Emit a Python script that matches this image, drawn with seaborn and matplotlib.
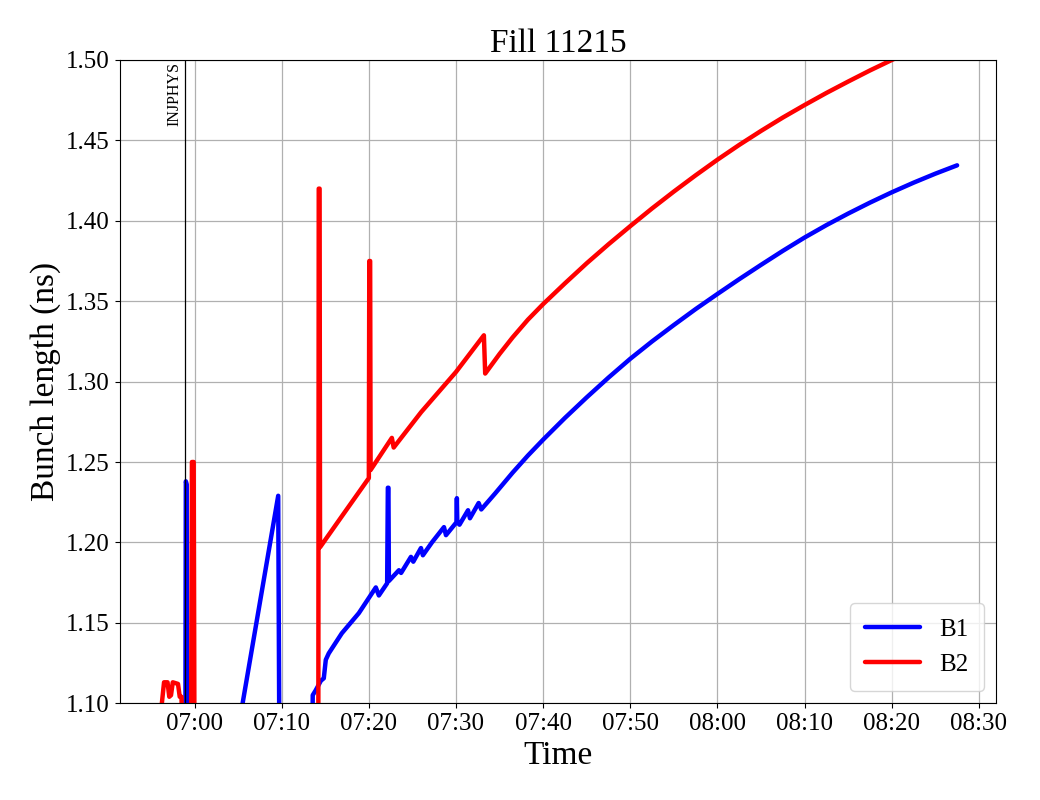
import pandas as pd
import matplotlib
matplotlib.use("Agg")
import matplotlib.pyplot as plt
import matplotlib.dates as mdates
from matplotlib.ticker import FormatStrFormatter
import seaborn as sns

# minutes relative to 07:00 and bunch length (ns)
b1_min = [-1.3, -1.05, -1.0, -0.9, -0.85, 5.2, 9.6, 9.75, 13.5, 13.56, 13.9, 14.5, 14.83,
          15.06, 15.4, 16.9, 18.85, 20.8, 21.15, 22.1, 22.18, 22.25, 22.3, 23.45, 23.7,
          24.83, 25.1, 25.98, 26.2, 27.24, 28.62, 28.85, 30.05, 30.1, 30.15, 30.4, 31.38,
          31.6, 32.6, 32.9, 34.5, 36.5, 38.25, 40, 42.5, 45, 47.5, 50, 52.5, 55, 57.5, 60,
          62.5, 65, 67.5, 70, 72.5, 75, 77.5, 80, 82.5, 85, 87.5]
b1_len = [1.05, 1.08, 1.238, 1.236, 1.05, 1.09, 1.229, 1.05, 1.05, 1.105, 1.108, 1.114, 1.1155,
          1.127, 1.131, 1.1435, 1.156, 1.172, 1.167, 1.1746, 1.234, 1.234, 1.176, 1.1827, 1.181,
          1.191, 1.188, 1.1965, 1.192, 1.200, 1.2095, 1.2045, 1.2125, 1.2275, 1.2125, 1.211, 1.220,
          1.215, 1.2245, 1.2205, 1.2305, 1.2434, 1.2540, 1.2639, 1.2774, 1.2902, 1.3025, 1.3142,
          1.3250, 1.3352, 1.3451, 1.3545, 1.3637, 1.3726, 1.3813, 1.3896, 1.3973, 1.4045, 1.4113,
          1.4177, 1.4237, 1.4293, 1.4345]

b2_min = [-4.0, -3.75, -3.5, -3.1, -2.9, -2.7, -2.5, -1.9, -1.7, -1.5, -1.4, -0.4, -0.3, -0.1,
          0.0, 14.2, 14.25, 14.35, 14.4, 17.0, 20.0, 20.05, 20.15, 20.2, 22.64, 22.85, 26.0,
          30.0, 33.2, 33.35, 35, 36.5, 38.25, 40, 42.5, 45, 47.5, 50, 52.5, 55, 57.5, 60, 62.5,
          65, 67.5, 70, 72.5, 75, 77.5, 80, 82.5, 85, 87.5]
b2_len = [1.08, 1.100, 1.113, 1.113, 1.104, 1.105, 1.113, 1.112, 1.104, 1.104, 1.08, 1.08, 1.25,
          1.25, 1.05, 1.05, 1.42, 1.42, 1.197, 1.217, 1.240, 1.375, 1.375, 1.245, 1.265, 1.259,
          1.281, 1.306, 1.3288, 1.305, 1.3172, 1.3275, 1.3385, 1.3482, 1.3611, 1.3736, 1.3854,
          1.3967, 1.4077, 1.4182, 1.4283, 1.4380, 1.4472, 1.4559, 1.4642, 1.4720, 1.4795, 1.4866,
          1.4935, 1.5000, 1.5062, 1.5121, 1.5177]

injphys_min = -1.15
t0 = pd.Timestamp("2022-10-01 07:00")

b1 = pd.DataFrame({"time": t0 + pd.to_timedelta(b1_min, unit="min"), "length": b1_len})
b2 = pd.DataFrame({"time": t0 + pd.to_timedelta(b2_min, unit="min"), "length": b2_len})

sns.set_style("ticks")
plt.rcParams["font.family"] = ["Liberation Serif", "DejaVu Serif"]
plt.rcParams["text.color"] = "black"
plt.rcParams["axes.labelcolor"] = "black"

fig, ax = plt.subplots(figsize=(10.4, 8), dpi=100)
fig.subplots_adjust(left=0.115, right=0.958, top=0.925, bottom=0.121)

sns.lineplot(data=b1, x="time", y="length", ax=ax, color="blue", lw=3.2,
             estimator=None, sort=False, label="B1")
sns.lineplot(data=b2, x="time", y="length", ax=ax, color="red", lw=3.2,
             estimator=None, sort=False, label="B2")

inj = t0 + pd.Timedelta(minutes=injphys_min)
ax.axvline(inj, color="black", lw=0.9)
ax.text(inj - pd.Timedelta(seconds=12), 1.4985, "INJPHYS", rotation=90,
        ha="right", va="top", fontsize=11.5, color="black")

ax.set_xlim(t0 - pd.Timedelta(minutes=8.6), t0 + pd.Timedelta(minutes=92))
ax.set_ylim(1.10, 1.50)
ax.xaxis.set_major_locator(mdates.MinuteLocator(byminute=range(0, 60, 10)))
ax.xaxis.set_major_formatter(mdates.DateFormatter("%H:%M"))
ax.yaxis.set_major_formatter(FormatStrFormatter("%.2f"))
ax.grid(True, color="#b0b0b0", lw=0.9)
for s in ax.spines.values():
    s.set_color("black")
ax.tick_params(labelsize=18, colors="black")

ax.set_title("Fill 11215", fontsize=24, color="black")
ax.set_xlabel("Time", fontsize=24)
ax.set_ylabel("Bunch length (ns)", fontsize=24)
leg = ax.legend(loc="lower right", fontsize=18, handlelength=2.2, borderpad=0.6)
for t in leg.get_texts():
    t.set_color("black")

fig.savefig("out.png", dpi=100)
